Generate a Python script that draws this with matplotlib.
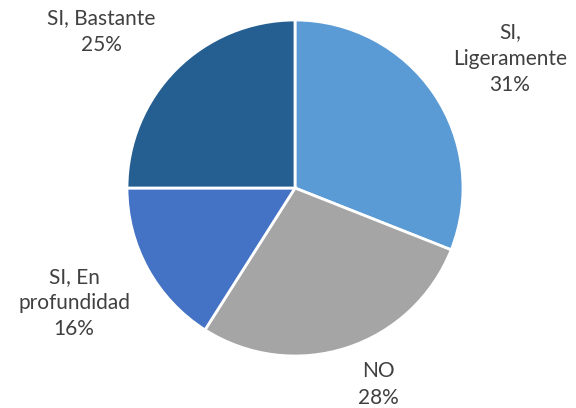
import matplotlib
matplotlib.use("Agg")
import matplotlib.pyplot as plt

categories = ["SI,\nLigeramente", "NO", "SI, En\nprofundidad", "SI, Bastante"]
values = [31, 28, 16, 25]
colors = ["#5B9BD5", "#A5A5A5", "#4472C4", "#255E91"]
# label positions in data units (radius = 1)
label_pos = [(1.28, 0.77), (0.494, -1.17), (-1.315, -0.685), (-1.155, 0.93)]

plt.rcParams['font.family'] = ['Lato', 'DejaVu Sans']

fig = plt.figure(figsize=(5.76, 4.08), dpi=100)
ax = fig.add_axes([127/576, (408-356)/408, 336/576, 336/408])
wedges, _ = ax.pie(values, colors=colors, startangle=90, counterclock=False,
                   wedgeprops=dict(edgecolor="white", linewidth=2))
ax.set_xlim(-1, 1)
ax.set_ylim(-1, 1)
ax.set_aspect("equal")

total = sum(values)
for cat, v, (x, y) in zip(categories, values, label_pos):
    ax.text(x, y, f"{cat}\n{round(100*v/total)}%", ha="center", va="center",
            fontsize=15, color="#404040", linespacing=1.4, clip_on=False)

fig.savefig("out.png", dpi=100)
